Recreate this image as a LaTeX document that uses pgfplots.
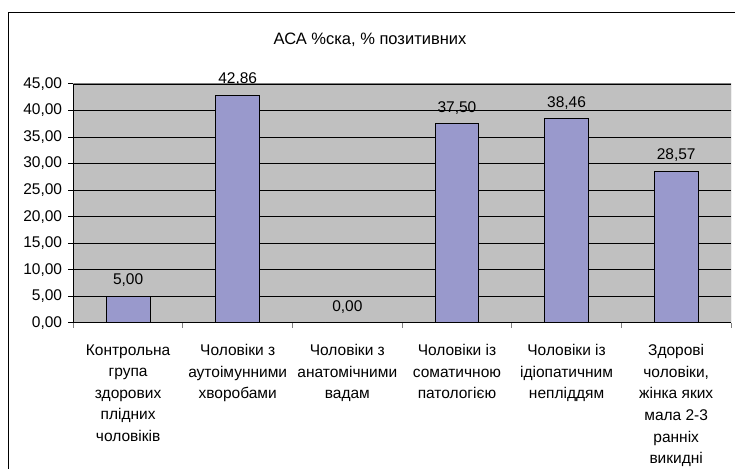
\documentclass[border=0pt]{standalone}
\usepackage{fontspec}
\setmainfont{Liberation Sans}
\usepackage{pgfplots}
\pgfplotsset{compat=1.18}
\definecolor{barfill}{HTML}{9999CC}
\definecolor{plotbg}{HTML}{C0C0C0}
\definecolor{framegray}{HTML}{808080}
\newcommand{\chartfont}{\fontsize{15.5}{21.6}\selectfont}
\begin{document}
\begin{tikzpicture}[x=1pt,y=1pt]
\useasboundingbox (0,0) rectangle (735,468);
\fill[white] (0,0) rectangle (735,468);
% chart area border
\draw[line width=1pt] (8,-10) -- (8,455.3) -- (745,455.3);
% chart title
\node[font=\fontsize{16.5}{20}\selectfont] at (370,428) {АСА \%ска, \% позитивних};
\begin{axis}[
  at={(73.3pt,145.3pt)}, anchor=south west,
  scale only axis, width=657.7pt, height=238.7pt,
  xmin=-0.5, xmax=5.5, ymin=0, ymax=45,
  axis background/.style={fill=plotbg},
  axis x line*=bottom, axis y line*=left,
  axis line style={black, line width=1pt, -},
  ytick={0,5,10,15,20,25,30,35,40,45},
  xtick={0,1,2,3,4,5},
  minor xtick={-0.5,0.5,1.5,2.5,3.5,4.5,5.5},
  xticklabels={
    {Контрольна\\група\\здорових\\плідних\\чоловіків},
    {Чоловіки з\\аутоімунними\\хворобами},
    {Чоловіки з\\анатомічними\\вадам},
    {Чоловіки із\\соматичною\\патологією},
    {Чоловіки із\\ідіопатичним\\непліддям},
    {Здорові\\чоловіки,\\жінка яких\\мала 2-3\\ранніх\\викидні}},
  tick align=outside,
  major tick length=5pt, minor tick length=5pt,
  major x tick style={draw=none},
  minor x tick style={draw=framegray, line width=1pt},
  major y tick style={draw=black, line width=1pt},
  ymajorgrids, major grid style={black, line width=0.9pt},
  /pgf/number format/.cd, fixed, fixed zerofill, precision=2, use comma, assume math mode=true,
  /pgfplots/.cd,
  yticklabel style={font=\chartfont, inner sep=0pt, xshift=-6pt},
  xticklabel style={font=\chartfont, align=center, anchor=north, inner sep=0pt, yshift=-16.5pt},
  ybar, bar width=0.4,
  nodes near coords,
  every node near coord/.append style={font=\chartfont, anchor=base, inner sep=0pt, yshift=11.5pt},
]
\addplot[fill=barfill, draw=black, line width=1pt] coordinates {
  (0,5.00) (1,42.86) (2,0.00) (3,37.50) (4,38.46) (5,28.57)
};
\draw[framegray, line width=1pt] (rel axis cs:0,1) -- (rel axis cs:1,1) -- (rel axis cs:1,0);
\end{axis}
\end{tikzpicture}
\end{document}
